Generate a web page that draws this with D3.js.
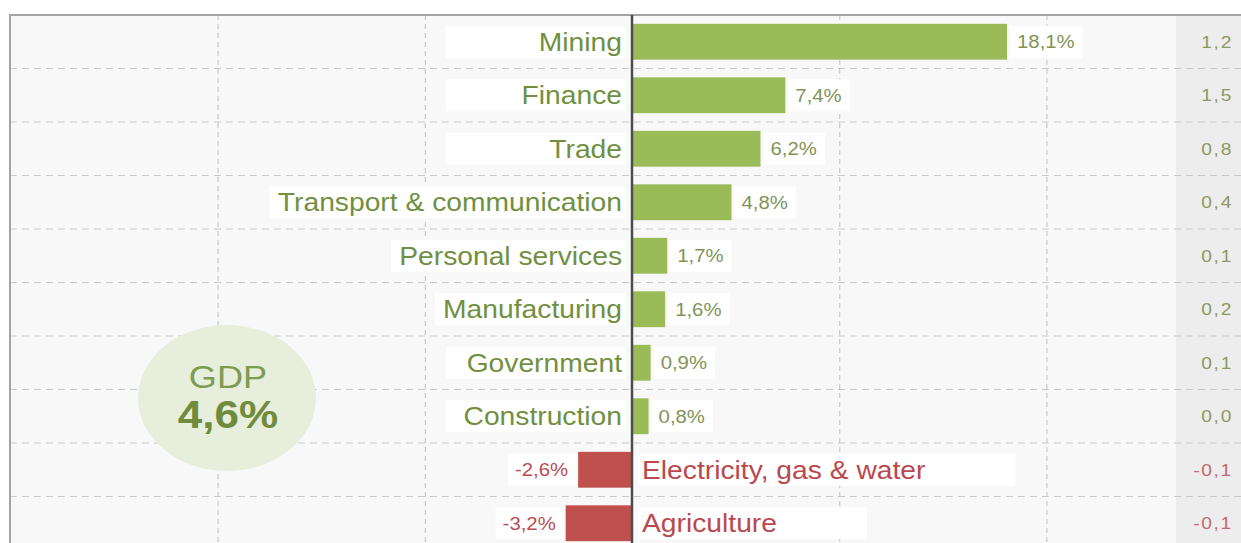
<!DOCTYPE html>
<html>
<head>
<meta charset="utf-8">
<script src="https://cdn.jsdelivr.net/npm/d3@7"></script>
<style>
  html, body { margin: 0; padding: 0; background: #ffffff; }
  svg { display: block; }
  text { font-family: "Liberation Sans", Arial, sans-serif; }
</style>
</head>
<body>
<svg id="chart" width="1241" height="543"></svg>
<script>
// Sector growth, year on year (%)
const sectors = ["Mining", "Finance", "Trade", "Transport & communication", "Personal services",
                 "Manufacturing", "Government", "Construction", "Electricity, gas & water", "Agriculture"];
const growth = [18.1, 7.4, 6.2, 4.8, 1.7, 1.6, 0.9, 0.8, -2.6, -3.2];
// Contribution to GDP growth (percentage points)
const contribution = [1.2, 1.5, 0.8, 0.4, 0.1, 0.2, 0.1, 0.0, -0.1, -0.1];
const gdpLabel = "GDP";
const gdpGrowth = 4.6;
const gridTicks = [-30, -20, -10, 0, 10, 20, 30];

const W = 1241, H = 543;
const plot = { left: 10, top: 15, bottom: 550 };
const colColumnX = 1176;
const stretch = 1.13;

const green = "#9bbb59", red = "#c0504d";
const greenText = "#71903f", redText = "#b9494e";
// decimal comma, plain hyphen for negatives
const fmt = v => v.toFixed(1).replace(".", ",");

const svg = d3.select("#chart");

const x = d3.scaleLinear().domain([-30, 30]).range([10.4, 1253.6]);
const y = d3.scaleBand().domain(sectors).range([plot.top, plot.bottom])
  .paddingInner(0.33).paddingOuter(0.165);
const step = y.step();

// background of the plot area
svg.append("rect").attr("x", plot.left).attr("y", plot.top)
  .attr("width", W - plot.left).attr("height", H - plot.top).attr("fill", "#f8f8f8");
svg.append("rect").attr("x", colColumnX).attr("y", plot.top)
  .attr("width", W - colColumnX).attr("height", H - plot.top).attr("fill", "#ededed");

// horizontal row separators
const rowLines = d3.range(1, sectors.length).map(i => plot.top + i * step);
svg.append("g").selectAll("line").data(rowLines).join("line")
  .attr("x1", plot.left).attr("x2", W)
  .attr("y1", d => d).attr("y2", d => d)
  .attr("stroke", "#c9c9c9").attr("stroke-width", 1.2).attr("stroke-dasharray", "7,5");

// vertical grid from the x axis
const xAxis = d3.axisBottom(x).tickValues(gridTicks.filter(t => t !== 0 && t !== -30))
  .tickSize(H - plot.top).tickFormat("");
const gx = svg.append("g").attr("transform", `translate(0,${plot.top})`).call(xAxis);
gx.select(".domain").remove();
gx.selectAll(".tick line").attr("stroke", "#c9c9c9").attr("stroke-width", 1.2)
  .attr("stroke-dasharray", "5,4");

// frame
svg.append("path")
  .attr("d", `M${plot.left},${H} L${plot.left},${plot.top} L${W},${plot.top}`)
  .attr("fill", "none").attr("stroke", "#a3a3a3").attr("stroke-width", 2);

// GDP bubble
const bubble = svg.append("g");
bubble.append("ellipse").attr("cx", 227).attr("cy", 398).attr("rx", 89).attr("ry", 73)
  .attr("fill", "#e8eedc");

function stretchedText(g, tx, ty, anchor, str, size, color, weight) {
  return g.append("text")
    .attr("transform", `translate(${tx},${ty}) scale(${stretch},1)`)
    .attr("text-anchor", anchor)
    .attr("font-size", size)
    .attr("font-weight", weight || "normal")
    .attr("fill", color)
    .text(str);
}
stretchedText(bubble, 228, 388, "middle", gdpLabel, 32, "#7d9c52");
stretchedText(bubble, 228, 428, "middle", fmt(gdpGrowth) + "%", 39, "#6e8c3c", "bold");

// label layers
const boxLayer = svg.append("g");
const barLayer = svg.append("g");
const textLayer = svg.append("g");

const rows = sectors.map((s, i) => ({ s, v: growth[i], c: contribution[i] }));

// bars
barLayer.selectAll("rect").data(rows).join("rect")
  .attr("x", d => x(Math.min(0, d.v)))
  .attr("y", d => y(d.s))
  .attr("width", d => Math.abs(x(d.v) - x(0)))
  .attr("height", y.bandwidth())
  .attr("fill", d => d.v >= 0 ? green : red);

// zero axis
svg.append("line").attr("x1", x(0)).attr("x2", x(0)).attr("y1", plot.top).attr("y2", H)
  .attr("stroke", "#4d4d4d").attr("stroke-width", 2.5);

function labelWithBox(tx, cy, anchor, str, size, color, padL, padR, minW) {
  const t = stretchedText(textLayer, tx, cy + size * 0.36, anchor, str, size, color);
  const w = t.node().getComputedTextLength() * stretch;
  let x0 = anchor === "end" ? tx - w : tx;
  let x1 = anchor === "end" ? tx : tx + w;
  x0 -= padL; x1 += padR;
  if (minW && x1 - x0 < minW) {
    if (anchor === "end") x0 = x1 - minW; else x1 = x0 + minW;
  }
  boxLayer.append("rect").attr("x", x0).attr("y", cy - 16).attr("width", x1 - x0).attr("height", 32)
    .attr("fill", "#ffffff");
}

rows.forEach(d => {
  const cy = y(d.s) + y.bandwidth() / 2;
  const pos = d.v >= 0;
  const tc = pos ? greenText : redText;
  // category name on the opposite side of the bar
  if (pos) labelWithBox(x(0) - 10, cy, "end", d.s, 25, tc, 8, 4, 180);
  else labelWithBox(x(0) + 10, cy, "start", d.s, 25, tc, 4, 90, 180);
  // value at the end of the bar
  const vx = pos ? x(d.v) + 10 : x(d.v) - 10;
  labelWithBox(vx, cy, pos ? "start" : "end", fmt(d.v) + "%", 18, pos ? "#7f9458" : "#bb4c51", 7, 8);
  // contribution column
  stretchedText(textLayer, 1233, cy + 6, "end", fmt(d.c), 17, d.c >= 0 ? "#8a9a62" : "#c46a6c")
    .attr("letter-spacing", 1.5);
});
</script>
</body>
</html>
